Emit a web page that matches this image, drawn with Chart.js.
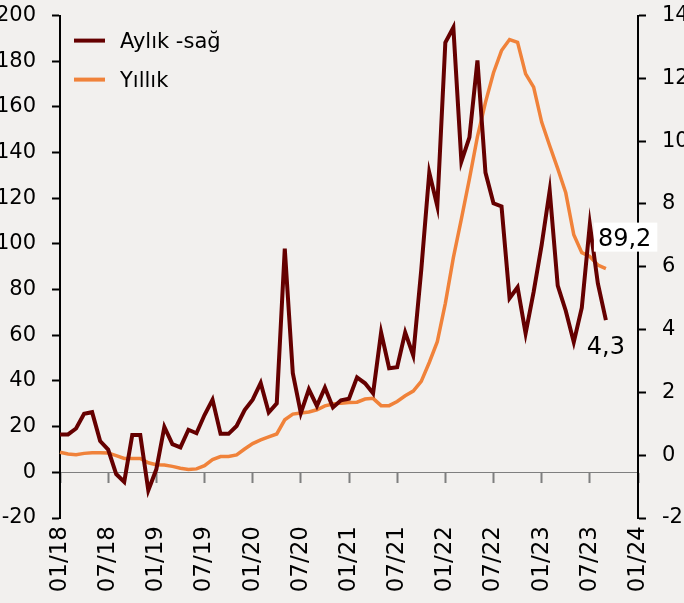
<!DOCTYPE html>
<html lang="tr">
<head>
<meta charset="utf-8">
<title>Aylık ve yıllık değişim</title>
<script src="https://cdn.jsdelivr.net/npm/chart.js@4.4.1/dist/chart.umd.min.js"></script>
<style>
  html, body { margin: 0; padding: 0; background: #f2f0ee; overflow: hidden; }
  #wrap { position: absolute; left: -30px; top: -13px; width: 730px; height: 616px; }
</style>
</head>
<body>
<div id="wrap"><canvas id="inflChart" width="730" height="616"></canvas></div>
<script>
const months = [
    '01/18', '02/18', '03/18', '04/18', '05/18', '06/18', '07/18', '08/18', '09/18', '10/18', '11/18', '12/18',
    '01/19', '02/19', '03/19', '04/19', '05/19', '06/19', '07/19', '08/19', '09/19', '10/19', '11/19', '12/19',
    '01/20', '02/20', '03/20', '04/20', '05/20', '06/20', '07/20', '08/20', '09/20', '10/20', '11/20', '12/20',
    '01/21', '02/21', '03/21', '04/21', '05/21', '06/21', '07/21', '08/21', '09/21', '10/21', '11/21', '12/21',
    '01/22', '02/22', '03/22', '04/22', '05/22', '06/22', '07/22', '08/22', '09/22', '10/22', '11/22', '12/22',
    '01/23', '02/23', '03/23', '04/23', '05/23', '06/23', '07/23', '08/23', '09/23', '10/23', '11/23', '12/23',
    '01/24'
];

// aylık % (sağ eksen)
const monthly = [
    0.66, 0.66, 0.85, 1.32, 1.37, 0.45, 0.18, -0.60, -0.85, 0.64, 0.64, -1.12,
    -0.45, 0.90, 0.35, 0.25, 0.81, 0.70, 1.28, 1.77, 0.68, 0.68, 0.93, 1.44,
    1.77, 2.30, 1.36, 1.65, 6.58, 2.61, 1.34, 2.10, 1.57, 2.15, 1.52, 1.75,
    1.80, 2.48, 2.29, 1.97, 3.91, 2.77, 2.80, 3.91, 3.18, 5.90, 9.00, 7.93,
    13.14, 13.62, 9.35, 10.12, 12.57, 9.00, 8.02, 7.92, 5.00, 5.35, 3.88, 5.20,
    6.70, 8.43, 5.40, 4.60, 3.60, 4.70, 7.35, 5.47, 4.30
];

// yıllık % (sol eksen)
const annual = [
    8.8, 8.0, 7.7, 8.3, 8.6, 8.6, 8.5, 7.3, 6.1, 6.1, 6.1, 4.2,
    3.3, 3.2, 2.6, 1.8, 1.2, 1.5, 2.9, 5.6, 6.9, 6.9, 7.6, 10.2,
    12.6, 14.2, 15.5, 16.8, 23.0, 25.5, 26.0, 26.4, 27.4, 29.1, 29.9, 30.3,
    30.6, 30.7, 32.1, 32.4, 29.2, 29.2, 31.0, 33.5, 35.6, 39.8, 48.1, 57.2,
    74.0, 94.0, 111.0, 128.5, 147.0, 162.0, 175.0, 184.7, 189.5, 188.3, 174.5, 168.7,
    153.4, 143.0, 133.0, 122.4, 104.0, 96.2, 94.5, 90.8, 89.2
];

const leftTicks = { min: -20, max: 200, step: 20 };
const rightTicks = { min: -2, max: 14, step: 2 };

const tickFont = { family: 'DejaVu Sans', size: 21 };
const dateFont = { family: 'DejaVu Sans', size: 23 };

function fmt(v) {
    return v.toFixed(1).replace('.', ',');
}

const endLabels = {
    id: 'endLabels',
    afterDatasetsDraw(chart) {
        const ctx = chart.ctx;
        ctx.save();
        ctx.font = '24px "DejaVu Sans"';
        ctx.textBaseline = 'alphabetic';

        const metaA = chart.getDatasetMeta(1);
        const pA = metaA.data[metaA.data.length - 1];
        const tA = fmt(annual[annual.length - 1]);
        const wA = ctx.measureText(tA).width;
        ctx.fillStyle = '#ffffff';
        ctx.fillRect(pA.x - 12, pA.y - 46, wA + 10, 29);
        ctx.fillStyle = '#000000';
        ctx.fillText(tA, pA.x - 8, pA.y - 23);

        const metaM = chart.getDatasetMeta(0);
        const pM = metaM.data[metaM.data.length - 1];
        const tM = fmt(monthly[monthly.length - 1]);
        ctx.textAlign = 'center';
        ctx.fillText(tM, pM.x, pM.y + 34);
        ctx.restore();
    }
};

const legendBox = {
    id: 'legendBox',
    afterDraw(chart) {
        const { ctx, chartArea } = chart;
        chart.data.datasets.forEach((ds, i) => {
            const y = chartArea.top + 25 + i * 39;
            ctx.save();
            ctx.strokeStyle = ds.borderColor;
            ctx.lineWidth = 4;
            ctx.beginPath();
            ctx.moveTo(chartArea.left + 14, y);
            ctx.lineTo(chartArea.left + 45, y);
            ctx.stroke();
            ctx.fillStyle = '#000000';
            ctx.font = '21px "DejaVu Sans"';
            ctx.textBaseline = 'alphabetic';
            ctx.fillText(ds.label, chartArea.left + 60, y + 7);
            ctx.restore();
        });
    }
};

const ctxChart = document.getElementById('inflChart').getContext('2d');

new Chart(ctxChart, {
    type: 'line',
    data: {
        labels: months,
        datasets: [
            { label: 'Aylık -sağ', data: monthly, xAxisID: 'x', yAxisID: 'y1',
              borderColor: '#650000', borderWidth: 4, pointRadius: 0, tension: 0, fill: false },
            { label: 'Yıllık', data: annual, xAxisID: 'x', yAxisID: 'y',
              borderColor: '#f0823a', borderWidth: 3.5, pointRadius: 0, tension: 0, fill: false }
        ]
    },
    options: {
        responsive: false,
        animation: false,
        devicePixelRatio: 1,
        layout: { padding: { top: 2, left: 0, right: 0, bottom: 0 } },
        plugins: {
            legend: { display: false },
            tooltip: { enabled: false }
        },
        scales: {
            x: {
                type: 'category',
                position: { y: 0 },
                grid: {
                    drawOnChartArea: false,
                    tickLength: 10,
                    tickWidth: 2,
                    tickColor: (c) => (c.index % 6 === 0 ? '#7f7f7f' : 'rgba(0,0,0,0)')
                },
                border: { color: '#7f7f7f', width: 1 },
                ticks: { display: false, autoSkip: false }
            },
            x2: {
                type: 'category',
                position: 'bottom',
                grid: { display: false, drawTicks: false },
                border: { display: false },
                ticks: {
                    autoSkip: false, minRotation: 90, maxRotation: 90, padding: 8,
                    color: '#000000', font: dateFont,
                    callback: (v, i) => (i % 6 === 0 ? months[i] : '')
                },
                afterFit: (s) => { s.height = 85; }
            },
            y: {
                position: 'left',
                min: leftTicks.min, max: leftTicks.max,
                ticks: { stepSize: leftTicks.step, padding: 16, color: '#000000', font: tickFont },
                grid: { drawOnChartArea: false, tickLength: 8, tickWidth: 2, tickColor: '#000000' },
                border: { color: '#000000', width: 2 },
                afterFit: (s) => { s.width = 90; }
            },
            y1: {
                position: 'right',
                min: rightTicks.min, max: rightTicks.max,
                ticks: { stepSize: rightTicks.step, padding: 16, color: '#000000', font: tickFont },
                grid: { drawOnChartArea: false, tickLength: 8, tickWidth: 2, tickColor: '#000000' },
                border: { color: '#000000', width: 2 },
                afterFit: (s) => { s.width = 62; }
            }
        }
    },
    plugins: [endLabels, legendBox]
});
</script>
</body>
</html>
